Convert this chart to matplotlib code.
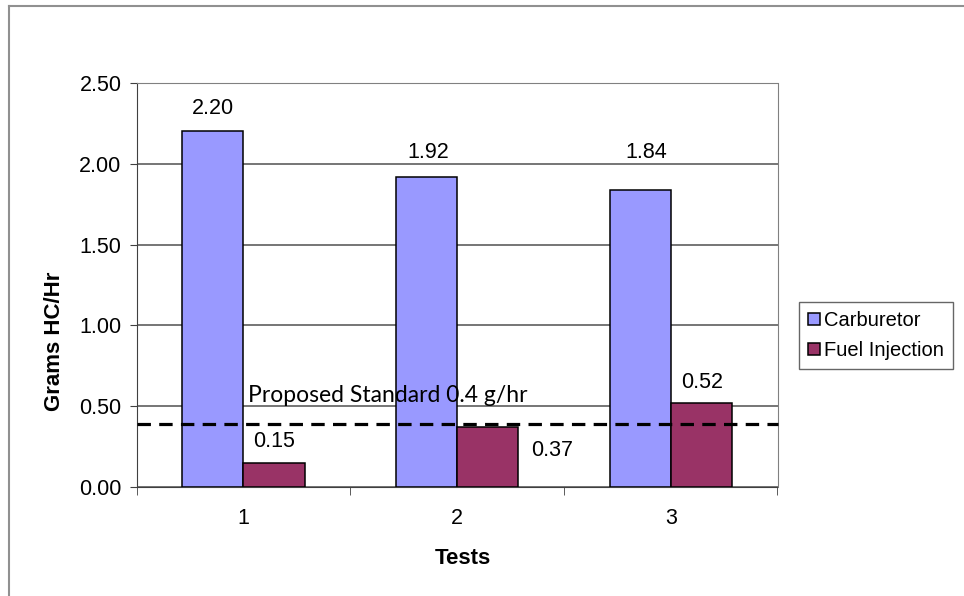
import numpy as np
import matplotlib; matplotlib.use('Agg'); import matplotlib.pyplot as plt
from matplotlib.lines import Line2D

# data
tests = ['1', '2', '3']
carb = [2.20, 1.92, 1.84]
fuel = [0.15, 0.37, 0.52]
standard = 0.39
standard_label = 'Proposed Standard 0.4 g/hr'
yticks = [0.0, 0.5, 1.0, 1.5, 2.0, 2.5]

# label placement (data coords)
carb_lbl_xy = [(-0.142, 2.338), (0.865, 2.066), (1.887, 2.066)]
fuel_lbl_xy = [(0.143, 0.28), (1.446, 0.23), (2.149, 0.645)]

plt.rcParams['font.family'] = ['Liberation Sans', 'DejaVu Sans']
W, H = 964, 596
fig = plt.figure(figsize=(W/100, H/100), dpi=100)
ax = fig.add_axes([136.7/W, 1-487.3/H, (777.5-136.7)/W, (487.3-82.7)/H])

x = np.arange(len(tests)); bw = 1/3.5
ax.bar(x-bw/2, carb, bw, color='#9999ff', edgecolor='black', lw=1.1, label='Carburetor', zorder=3)
ax.bar(x+bw/2, fuel, bw, color='#993366', edgecolor='black', lw=1.1, label='Fuel Injection', zorder=3)
ax.axhline(standard, color='black', lw=2.3, dashes=(4.2, 2.6), zorder=4, clip_on=False)
ax.text(0.02, 0.57, standard_label, family=['Lato', 'DejaVu Sans'], fontsize=16.5, va='center', ha='left', zorder=5)

for v, (tx, ty) in zip(carb, carb_lbl_xy):
    ax.text(tx, ty, f'{v:.2f}', ha='center', va='center', fontsize=15.5)
for v, (tx, ty) in zip(fuel, fuel_lbl_xy):
    ax.text(tx, ty, f'{v:.2f}', ha='center', va='center', fontsize=15.5)

ax.set_xlim(-0.5, 2.5); ax.set_ylim(0, 2.5)
ax.set_yticks(yticks); ax.set_yticklabels([f'{t:.2f}' for t in yticks], fontsize=15.5)
ax.set_xticks(x); ax.set_xticklabels(tests, fontsize=15.5)
ax.set_xticks([-0.5, 0.5, 1.5, 2.5], minor=True)
ax.tick_params(axis='x', which='major', length=0, pad=15)
ax.tick_params(axis='x', which='minor', length=6, color='#404040')
ax.tick_params(axis='y', length=5, color='#404040', pad=6)
ax.yaxis.grid(True, color='#505050', lw=1.1, zorder=0)
for s in ('left', 'bottom'): ax.spines[s].set_color('#404040')
for s in ('top', 'right'): ax.spines[s].set_color('#808080')

fig.text(463/W, 1-558/H, 'Tests', ha='center', va='center', fontsize=16, fontweight='bold')
fig.text(55/W, 1-341/H, 'Grams HC/Hr', ha='center', va='center', rotation=90, fontsize=16, fontweight='bold')

fig.legend(loc='upper left', bbox_to_anchor=(799/W, 1-302/H), fontsize=14.5, frameon=True, fancybox=False,
           edgecolor='#404040', handlelength=0.6, handleheight=0.6, handletextpad=0.2, borderpad=0.45,
           labelspacing=0.55, borderaxespad=0)

fig.add_artist(Line2D([9/W, 1], [1-6/H, 1-6/H], color='#909090', lw=1.5))
fig.add_artist(Line2D([9/W, 9/W], [0, 1-6/H], color='#909090', lw=1.5))
fig.savefig('out.png', dpi=100)
